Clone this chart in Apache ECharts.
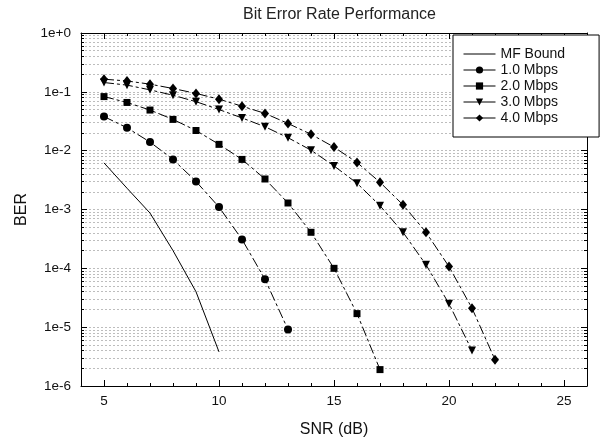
<!DOCTYPE html>
<html>
<head>
<meta charset="utf-8">
<script src="https://cdn.jsdelivr.net/npm/echarts@6/dist/echarts.min.js"></script>
<style>
  html, body { margin: 0; padding: 0; background: #fff; }
  #chart { width: 600px; height: 439px; }
</style>
</head>
<body>
<div id="chart"></div>
<script>
// SNR values (dB) and BER readings per curve
const snrMF = [5, 6, 7, 8, 9, 10]
const berMF = [6.2e-3, 2.3e-3, 8.7e-4, 2.0e-4, 4.0e-5, 3.8e-6]

const snr1 = [5, 6, 7, 8, 9, 10, 11, 12, 13]
const ber1 = [0.038, 0.0245, 0.014, 0.0071, 0.0030, 0.0011, 0.00031, 6.5e-5, 9.1e-6]

const snr2 = [5, 6, 7, 8, 9, 10, 11, 12, 13, 14, 15, 16, 17]
const ber2 = [0.083, 0.066, 0.049, 0.034, 0.022, 0.0128, 0.0071, 0.0033, 0.00129, 0.00041, 1.0e-4, 1.7e-5, 1.9e-6]

const snr3 = [5, 6, 7, 8, 9, 10, 11, 12, 13, 14, 15, 16, 17, 18, 19, 20, 21]
const ber3 = [0.144, 0.13, 0.108, 0.0875, 0.068, 0.050, 0.036, 0.0255, 0.0166, 0.0102, 0.0055, 0.0028, 0.00116, 0.00041, 1.15e-4, 2.5e-5, 4.0e-6]

const snr4 = [5, 6, 7, 8, 9, 10, 11, 12, 13, 14, 15, 16, 17, 18, 19, 20, 21, 22]
const ber4 = [0.164, 0.153, 0.135, 0.114, 0.094, 0.075, 0.057, 0.043, 0.029, 0.019, 0.0115, 0.0063, 0.0029, 0.0012, 0.00041, 1.07e-4, 2.1e-5, 2.8e-6]

const xMajorTicks = [5, 10, 15, 20, 25]

const chart = echarts.init(document.getElementById('chart'))

const pairs = (xs, ys) => xs.map((x, i) => [x, ys[i]])
const fontFamily = '"Liberation Sans", Arial, sans-serif'
const dashed = [10, 3, 3, 3]

const markSeries = (name, xs, ys, symbol, size, rotate) => ({
  name,
  type: 'line',
  data: pairs(xs, ys),
  symbol,
  symbolSize: size,
  symbolRotate: rotate || 0,
  itemStyle: { color: '#000' },
  lineStyle: { color: '#000', width: 1, type: dashed },
  xAxisIndex: 0,
  yAxisIndex: 0
})

const gridLine = { show: true, lineStyle: { color: '#bdbdbd', width: 1, type: [2, 2] } }

const logAxis = (position, withLabel) => ({
  type: 'log',
  logBase: 10,
  min: 1e-6,
  max: 1,
  position,
  name: withLabel ? 'BER' : '',
  nameLocation: 'middle',
  nameGap: 51,
  nameTextStyle: { fontFamily, fontSize: 16, color: '#111' },
  axisLine: { show: true, lineStyle: { color: '#000', width: 1 } },
  axisTick: { show: true, inside: true, length: 6, lineStyle: { color: '#000' } },
  minorTick: { show: true, splitNumber: 9, length: 3, lineStyle: { color: '#000' } },
  axisLabel: {
    show: withLabel,
    margin: 10,
    fontFamily,
    fontSize: 13.5,
    color: '#111',
    formatter: v => {
      const e = Math.round(Math.log10(v))
      return '1e' + (e >= 0 ? '+' : '-') + Math.abs(e)
    }
  },
  splitLine: withLabel ? gridLine : { show: false },
  minorSplitLine: withLabel ? gridLine : { show: false }
})

const snrAxis = (position, major, withLabel) => ({
  type: 'value',
  min: 4,
  max: 26,
  interval: 1,
  position,
  name: withLabel ? 'SNR (dB)' : '',
  nameLocation: 'middle',
  nameGap: 36,
  nameTextStyle: { fontFamily, fontSize: 16, color: '#111' },
  axisLine: { show: major, lineStyle: { color: '#000', width: 1 } },
  axisTick: major
    ? { show: true, inside: true, length: 6, customValues: xMajorTicks, lineStyle: { color: '#000' } }
    : { show: true, inside: true, length: 3, lineStyle: { color: '#000' } },
  axisLabel: withLabel
    ? { show: true, margin: 8, fontFamily, fontSize: 13.5, color: '#111', customValues: xMajorTicks }
    : { show: false },
  splitLine: { show: false }
})

const options = {
  animation: false,
  backgroundColor: '#fff',
  title: {
    text: 'Bit Error Rate Performance',
    left: 238,
    top: 2,
    textStyle: { fontFamily, fontSize: 16, fontWeight: 'normal', color: '#222' }
  },
  grid: { left: 81, right: 13, top: 33, bottom: 53, outerBoundsMode: 'none', containLabel: false },
  legend: {
    left: 453,
    top: 35,
    orient: 'vertical',
    backgroundColor: '#fff',
    borderColor: '#000',
    borderWidth: 1,
    borderRadius: 0,
    padding: [12, 34, 12, 10],
    itemWidth: 32,
    itemHeight: 9,
    itemGap: 2,
    lineStyle: { type: 'solid', width: 1 },
    textStyle: { fontFamily, fontSize: 14, color: '#111' },
    data: [
      { name: 'MF Bound', itemStyle: { color: 'rgba(0,0,0,0)', borderWidth: 0 } },
      '1.0 Mbps', '2.0 Mbps', '3.0 Mbps', '4.0 Mbps'
    ]
  },
  xAxis: [
    snrAxis('bottom', true, true),
    snrAxis('bottom', false, false),
    snrAxis('top', true, false),
    snrAxis('top', false, false)
  ],
  yAxis: [
    logAxis('left', true),
    logAxis('right', false)
  ],
  series: [
    {
      name: 'MF Bound',
      type: 'line',
      data: pairs(snrMF, berMF),
      symbol: 'none',
      itemStyle: { color: '#000' },
      lineStyle: { color: '#000', width: 1 },
      xAxisIndex: 0,
      yAxisIndex: 0
    },
    markSeries('1.0 Mbps', snr1, ber1, 'circle', 8),
    markSeries('2.0 Mbps', snr2, ber2, 'rect', 7),
    markSeries('3.0 Mbps', snr3, ber3, 'triangle', 8, 180),
    markSeries('4.0 Mbps', snr4, ber4, 'diamond', [8, 10])
  ]
}

chart.setOption(options)
</script>
</body>
</html>
